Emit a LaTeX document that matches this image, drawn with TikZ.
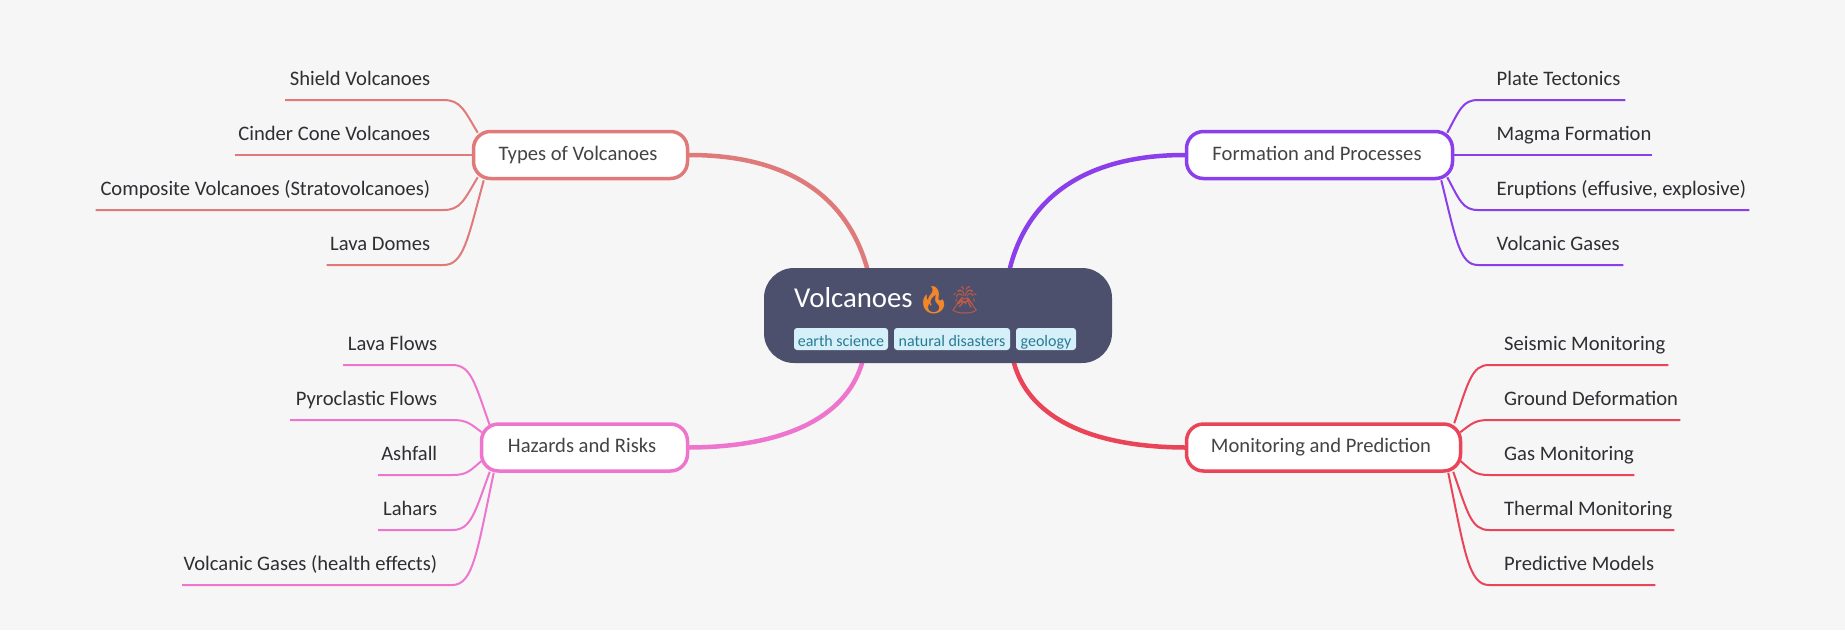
\documentclass[tikz,border=0pt]{standalone}
\usepackage{fontspec}
\setmainfont{Carlito}
\newfontfamily\emojifont{Noto Emoji}
\usetikzlibrary{calc,backgrounds}
\definecolor{pagebg}{HTML}{F6F6F6}
\definecolor{rootfill}{HTML}{4D506D}
\definecolor{tagfill}{HTML}{D5F0F8}
\definecolor{tagtext}{HTML}{2A7A94}
\definecolor{leaftext}{HTML}{2E2E33}
\definecolor{maintext}{HTML}{444446}
\definecolor{ctypes}{HTML}{E07A7A}
\definecolor{cform}{HTML}{8A3FEB}
\definecolor{chaz}{HTML}{EE75CE}
\definecolor{cmon}{HTML}{EA4459}
\definecolor{cfire}{HTML}{F4862A}
\definecolor{cvolc}{HTML}{C05A48}
\newcommand\lefttext[3]{\makebox[#1pt][r]{#3\hspace*{#2pt}}}
\newcommand\righttext[3]{\makebox[#1pt][l]{\hspace*{#2pt}#3}}
% twig: leaf underline from start anchor to corner anchor, then a curve to the parent point
\newcommand\twig[4]{\draw[#1] let \p1=(#3),\p2=(#4) in (#2) -- (#3)
  .. controls ({\x1+0.5*(\x2-\x1)},{\y1}) and ({\x1+0.6*(\x2-\x1)},{\y1+0.3*(\y2-\y1)}) .. (#4);}
\tikzset{
  rootbox/.style={fill=rootfill,rounded corners=30pt,minimum width=348pt,minimum height=95pt,inner sep=0pt},
  mainbox/.style={draw=#1,fill=white,line width=3.5pt,rounded corners=17pt,minimum height=47pt,inner sep=0pt,font=\fontsize{20.6}{24}\selectfont,text=maintext,text height=13pt,text depth=3pt},
  leafbox/.style={inner sep=0pt,anchor=south west,font=\fontsize{20.6}{24}\selectfont,text=leaftext,text height=14pt,text depth=14.5pt},
  tagbox/.style={fill=tagfill,text=tagtext,rounded corners=3pt,inner sep=0pt,minimum height=22pt,font=\fontsize{16}{20}\selectfont,text height=15pt,text depth=1pt},
  branch/.style={draw=#1,line width=4.5pt,line cap=round},
  wire/.style={draw=#1,line width=2pt},
}
\begin{document}
\begin{tikzpicture}[x=1pt,y=-1pt]
\useasboundingbox (0,0) rectangle (1845,630);
% root
\node[rootbox] (root) at (938,315.5) {};
\node[anchor=base west,inner sep=0pt,text=white,font=\fontsize{28.8}{32}\selectfont] (title) at (794,307) {Volcanoes};
\node[anchor=base west,inner sep=0pt,text=cfire,font=\emojifont\fontsize{27}{30}\selectfont] (fire) at (916.5,309) {🔥};
\node[anchor=base west,inner sep=0pt,text=cvolc,font=\emojifont\fontsize{27}{30}\selectfont] (volc) at (947.5,309) {🌋};
\node[tagbox,minimum width=94pt] (tag1) at (841,339) {earth science};
\node[tagbox,minimum width=116pt] (tag2) at (952,339) {natural disasters};
\node[tagbox,minimum width=60pt] (tag3) at (1046,339) {geology};
% main nodes
\node[mainbox=ctypes,minimum width=214pt] (types) at (580.5,155) {Types of Volcanoes\hspace*{5pt}};
\node[mainbox=cform,minimum width=266pt] (form) at (1319.5,155) {Formation and Processes\hspace*{5pt}};
\node[mainbox=chaz,minimum width=206pt] (haz) at (584.5,447.5) {Hazards and Risks\hspace*{5pt}};
\node[mainbox=cmon,minimum width=274pt] (mon) at (1323.5,447.5) {Monitoring and Prediction\hspace*{5pt}};
% leaves: Types
\node[leafbox] (t1) at (285,100) {\lefttext{158}{13}{Shield Volcanoes}};
\node[leafbox] (t2) at (235,155) {\lefttext{208}{13}{Cinder Cone Volcanoes}};
\node[leafbox] (t3) at (95.5,210) {\lefttext{347.5}{13}{Composite Volcanoes (Stratovolcanoes)}};
\node[leafbox] (t4) at (326.5,265) {\lefttext{116.5}{13}{Lava Domes}};
% leaves: Formation
\node[leafbox] (f1) at (1478,100) {\righttext{147}{18.5}{Plate Tectonics}};
\node[leafbox] (f2) at (1478,155) {\righttext{174}{18.5}{Magma Formation}};
\node[leafbox] (f3) at (1478,210) {\righttext{271}{18.5}{Eruptions (effusive, explosive)}};
\node[leafbox] (f4) at (1478,265) {\righttext{145}{18.5}{Volcanic Gases}};
% leaves: Hazards
\node[leafbox] (h1) at (343,365) {\lefttext{109}{15}{Lava Flows}};
\node[leafbox] (h2) at (290,420) {\lefttext{162}{15}{Pyroclastic Flows}};
\node[leafbox] (h3) at (378,475) {\lefttext{74}{15}{Ashfall}};
\node[leafbox] (h4) at (378,530) {\lefttext{74}{15}{Lahars}};
\node[leafbox] (h5) at (182,585) {\lefttext{270}{15}{Volcanic Gases (health effects)}};
% leaves: Monitoring
\node[leafbox] (m1) at (1489,365) {\righttext{179}{15}{Seismic Monitoring}};
\node[leafbox] (m2) at (1489,420) {\righttext{191}{15}{Ground Deformation}};
\node[leafbox] (m3) at (1489,475) {\righttext{145}{15}{Gas Monitoring}};
\node[leafbox] (m4) at (1489,530) {\righttext{185}{15}{Thermal Monitoring}};
\node[leafbox] (m5) at (1489,585) {\righttext{166}{15}{Predictive Models}};
\begin{scope}[on background layer]
\fill[pagebg] (0,0) rectangle (1845,630);
% branches
\draw[branch=ctypes] (types.east) .. controls (780,155) and (845,190) .. ([xshift=-71pt]root.north);
\draw[branch=cform] (form.west) .. controls (1095,155) and (1030,190) .. ([xshift=72pt]root.north);
\draw[branch=chaz] (haz.east) .. controls (780,447) and (845,420) .. ([xshift=-76pt]root.south);
\draw[branch=cmon] (mon.west) .. controls (1095,447) and (1030,420) .. ([xshift=76pt]root.south);
% Types
\twig{wire=ctypes}{t1.south west}{t1.south east}{$(types.north west)+(6pt,-3pt)$}
\draw[wire=ctypes] (t2.south west) -- (types.west);
\twig{wire=ctypes}{t3.south west}{t3.south east}{$(types.south west)+(6pt,3pt)$}
\twig{wire=ctypes}{t4.south west}{t4.south east}{$(types.south west)+(12pt,0pt)$}
% Formation
\twig{wire=cform}{f1.south east}{f1.south west}{$(form.north east)+(-7pt,-3pt)$}
\draw[wire=cform] (f2.south east) -- (form.east);
\twig{wire=cform}{f3.south east}{f3.south west}{$(form.south east)+(-7pt,3pt)$}
\twig{wire=cform}{f4.south east}{f4.south west}{$(form.south east)+(-13pt,0pt)$}
% Hazards
\twig{wire=chaz}{h1.south west}{h1.south east}{$(haz.north west)+(10pt,-3pt)$}
\twig{wire=chaz}{h2.south west}{h2.south east}{$(haz.north west)+(2pt,-10pt)$}
\twig{wire=chaz}{h3.south west}{h3.south east}{$(haz.south west)+(2pt,12pt)$}
\twig{wire=chaz}{h4.south west}{h4.south east}{$(haz.south west)+(10pt,1pt)$}
\twig{wire=chaz}{h5.south west}{h5.south east}{$(haz.south west)+(14pt,0pt)$}
% Monitoring
\twig{wire=cmon}{m1.south east}{m1.south west}{$(mon.north east)+(-8pt,-1pt)$}
\twig{wire=cmon}{m2.south east}{m2.south west}{$(mon.north east)+(-2pt,-10pt)$}
\twig{wire=cmon}{m3.south east}{m3.south west}{$(mon.south east)+(-2pt,12pt)$}
\twig{wire=cmon}{m4.south east}{m4.south west}{$(mon.south east)+(-9pt,1pt)$}
\twig{wire=cmon}{m5.south east}{m5.south west}{$(mon.south east)+(-14pt,0pt)$}
\end{scope}
\end{tikzpicture}
\end{document}
